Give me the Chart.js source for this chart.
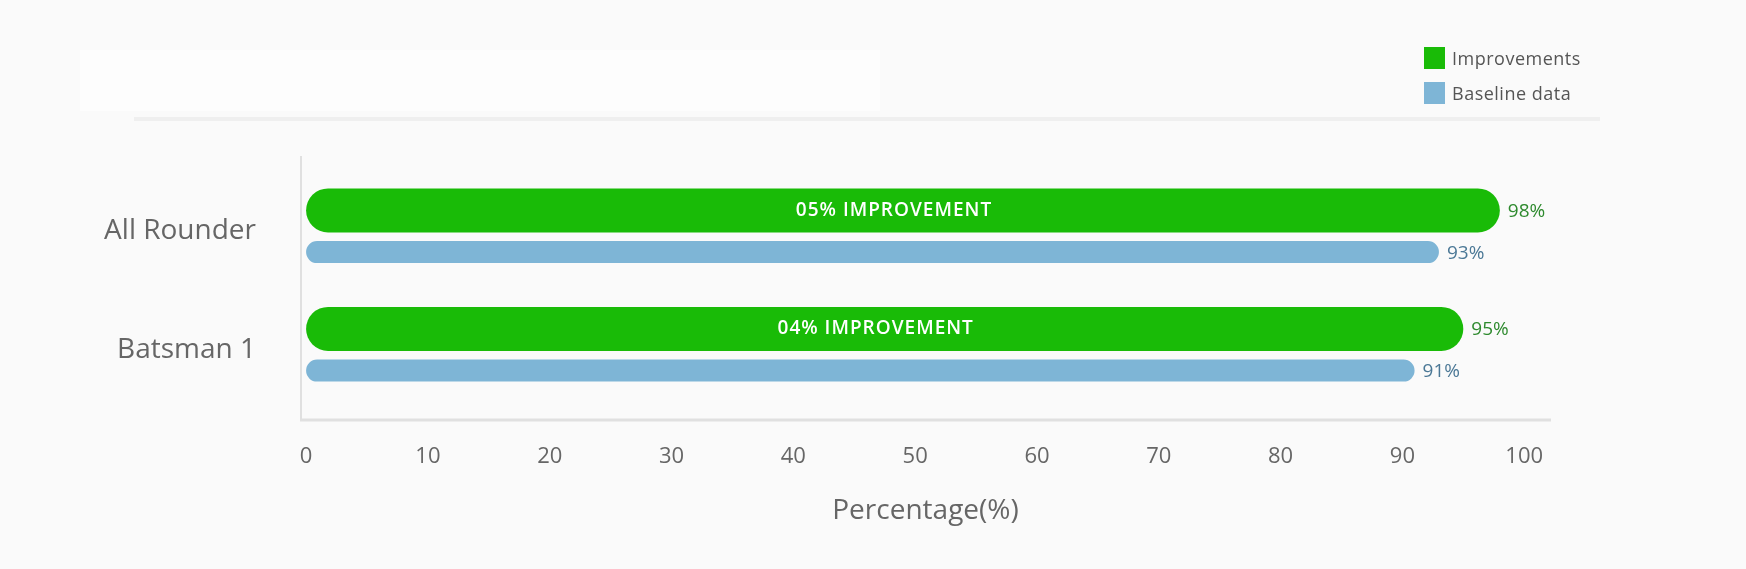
<!DOCTYPE html>
<html>
<head>
<meta charset="utf-8">
<script src="https://cdn.jsdelivr.net/npm/chart.js@4.4.1/dist/chart.umd.min.js"></script>
<style>
  html, body { margin:0; padding:0; width:1746px; height:569px; overflow:hidden; background:#fafafa; font-family:"Open Sans", sans-serif; }
  #hdr { position:absolute; left:80px; top:50px; width:800px; height:61px; background:#fdfdfd; }
  #rule { position:absolute; left:134px; top:117px; width:1466px; height:4px; background:#efefef; }
  #wrap { position:absolute; left:0; top:0; width:1746px; height:569px; }
  #legend { position:absolute; left:1424px; top:47px; }
  .li { display:flex; align-items:center; height:22px; margin-bottom:13px; font-size:18px; color:#555; letter-spacing:0.5px; }
  .sw { width:21px; height:22px; margin-right:7px; flex:none; }
</style>
</head>
<body>
<div id="hdr"></div>
<div id="rule"></div>
<div id="wrap"><canvas id="c" width="1746" height="569"></canvas></div>
<div id="legend"></div>
<script>
const categories = ["All Rounder", "Batsman 1"];
const seriesNames = ["Improvements", "Baseline data"];
const improvements = [98, 95];
const baseline = [93, 91];
const xTicks = [0, 10, 20, 30, 40, 50, 60, 70, 80, 90, 100];
const axisTitle = "Percentage(%)";

const FONT = '"Open Sans", sans-serif';
const GREEN = '#19bb07';
const BLUE = '#7eb5d6';

const axisLines = {
  id: 'axisLines',
  beforeDatasetsDraw(chart) {
    const {ctx, chartArea: a} = chart;
    ctx.save();
    ctx.strokeStyle = '#e0e0e0';
    ctx.lineWidth = 2;
    ctx.beginPath();
    ctx.moveTo(a.left + 1, a.top - 16);
    ctx.lineTo(a.left + 1, a.bottom + 11);
    ctx.stroke();
    ctx.lineWidth = 3;
    ctx.beginPath();
    ctx.moveTo(a.left, a.bottom + 11);
    ctx.lineTo(a.right, a.bottom + 11);
    ctx.stroke();
    ctx.restore();
  }
};

const barLabels = {
  id: 'barLabels',
  afterDatasetsDraw(chart) {
    const ctx = chart.ctx;
    ctx.save();
    ctx.textBaseline = 'middle';
    chart.data.datasets.forEach((ds, di) => {
      const meta = chart.getDatasetMeta(di);
      meta.data.forEach((el, i) => {
        ctx.letterSpacing = '0px';
        ctx.font = '19px ' + FONT;
        ctx.fillStyle = ds.labelColor;
        ctx.textAlign = 'left';
        ctx.fillText(ds.data[i] + '%', el.x + 8, el.y + 1);
        if (di === 0) {
          const diff = Math.round(improvements[i] - baseline[i]);
          const txt = String(diff).padStart(2, '0') + '% IMPROVEMENT';
          ctx.font = '600 19px ' + FONT;
          ctx.letterSpacing = '1px';
          ctx.fillStyle = '#ffffff';
          ctx.textAlign = 'center';
          ctx.fillText(txt, (el.x + el.base) / 2 - 9, el.y);
        }
      });
    });
    ctx.restore();
  }
};

const chart = new Chart(document.getElementById('c'), {
  type: 'bar',
  data: {
    labels: categories,
    datasets: [
      {
        label: seriesNames[0], data: improvements, backgroundColor: GREEN,
        borderRadius: 100, borderSkipped: false, borderWidth: 0,
        categoryPercentage: 0.704, barPercentage: 1.055, labelColor: '#2e8a2e'
      },
      {
        label: seriesNames[1], data: baseline, backgroundColor: BLUE,
        borderRadius: 100, borderSkipped: false, borderWidth: 0,
        categoryPercentage: 0.704, barPercentage: 0.528, labelColor: '#4b7896'
      }
    ]
  },
  options: {
    indexAxis: 'y',
    responsive: false,
    devicePixelRatio: 1,
    animation: false,
    layout: { padding: { left: 0, right: 195, top: 172, bottom: 41 } },
    plugins: { legend: { display: false }, tooltip: { enabled: false } },
    scales: {
      x: {
        min: -0.5, max: 102.2,
        grid: { display: false, drawTicks: false },
        border: { display: false },
        afterBuildTicks: s => { s.ticks = xTicks.map(v => ({ value: v })); },
        ticks: { color: '#666', font: { family: FONT, size: 22 }, padding: 35, maxRotation: 0 },
        title: { display: true, text: axisTitle, color: '#666', font: { family: FONT, size: 28 }, padding: { top: 0, bottom: 0 } },
        afterFit: s => { s.height = 119; }
      },
      y: {
        grid: { display: false, drawTicks: false },
        border: { display: false },
        ticks: { color: '#666', font: { family: FONT, size: 28 }, padding: 44 },
        afterFit: s => { s.width = 300; }
      }
    }
  },
  plugins: [axisLines, barLabels]
});

const legend = document.getElementById('legend');
chart.data.datasets.forEach(ds => {
  const row = document.createElement('div');
  row.className = 'li';
  const sw = document.createElement('span');
  sw.className = 'sw';
  sw.style.background = ds.backgroundColor;
  const t = document.createElement('span');
  t.textContent = ds.label;
  row.appendChild(sw); row.appendChild(t);
  legend.appendChild(row);
});
</script>
</body>
</html>
